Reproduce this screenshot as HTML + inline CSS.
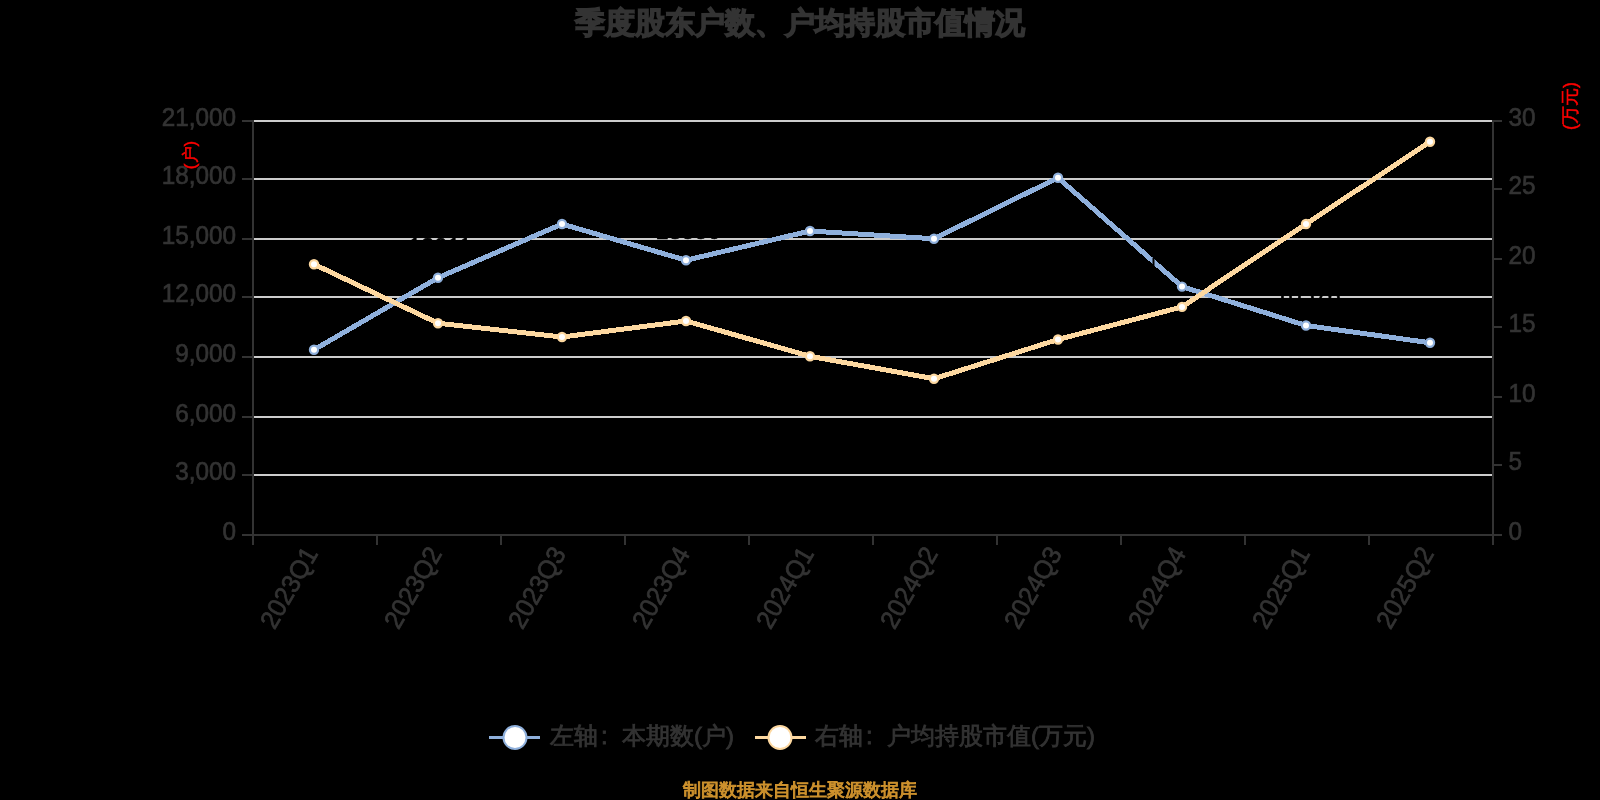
<!DOCTYPE html><html><head><meta charset="utf-8"><style>
html,body{margin:0;padding:0;background:#000;width:1600px;height:800px;overflow:hidden}
svg{display:block;will-change:transform}
text{font-family:"Liberation Sans", sans-serif}
</style></head><body>
<svg width="1600" height="800" viewBox="0 0 1600 800">
<rect width="1600" height="800" fill="#000"/>
<text x="800" y="33" text-anchor="middle" font-size="30" fill="#333333" stroke="#333333" stroke-width="2.4">季度股东户数、户均持股市值情况</text>
<rect x="254" y="474" width="1238" height="2" fill="#cccccc"/>
<rect x="254" y="416" width="1238" height="2" fill="#cccccc"/>
<rect x="254" y="356" width="1238" height="2" fill="#cccccc"/>
<rect x="254" y="296" width="1238" height="2" fill="#cccccc"/>
<rect x="254" y="238" width="1238" height="2" fill="#cccccc"/>
<rect x="254" y="178" width="1238" height="2" fill="#cccccc"/>
<rect x="254" y="120" width="1238" height="2" fill="#cccccc"/>
<text transform="translate(236,540.00) scale(0.935,1)" text-anchor="end" font-size="26" fill="#333333" stroke="#333333" stroke-width="0.7">0</text>
<rect x="242" y="534" width="12" height="2" fill="#333333"/>
<text transform="translate(236,480.00) scale(0.935,1)" text-anchor="end" font-size="26" fill="#333333" stroke="#333333" stroke-width="0.7">3,000</text>
<rect x="242" y="474" width="12" height="2" fill="#333333"/>
<text transform="translate(236,422.00) scale(0.935,1)" text-anchor="end" font-size="26" fill="#333333" stroke="#333333" stroke-width="0.7">6,000</text>
<rect x="242" y="416" width="12" height="2" fill="#333333"/>
<text transform="translate(236,362.00) scale(0.935,1)" text-anchor="end" font-size="26" fill="#333333" stroke="#333333" stroke-width="0.7">9,000</text>
<rect x="242" y="356" width="12" height="2" fill="#333333"/>
<text transform="translate(236,302.00) scale(0.935,1)" text-anchor="end" font-size="26" fill="#333333" stroke="#333333" stroke-width="0.7">12,000</text>
<rect x="242" y="296" width="12" height="2" fill="#333333"/>
<text transform="translate(236,244.00) scale(0.935,1)" text-anchor="end" font-size="26" fill="#333333" stroke="#333333" stroke-width="0.7">15,000</text>
<rect x="242" y="238" width="12" height="2" fill="#333333"/>
<text transform="translate(236,184.00) scale(0.935,1)" text-anchor="end" font-size="26" fill="#333333" stroke="#333333" stroke-width="0.7">18,000</text>
<rect x="242" y="178" width="12" height="2" fill="#333333"/>
<text transform="translate(236,126.00) scale(0.935,1)" text-anchor="end" font-size="26" fill="#333333" stroke="#333333" stroke-width="0.7">21,000</text>
<rect x="242" y="120" width="12" height="2" fill="#333333"/>
<rect x="1492" y="534" width="10" height="2" fill="#333333"/>
<text transform="translate(1508.5,540.00) scale(0.935,1)" text-anchor="start" font-size="26" fill="#333333" stroke="#333333" stroke-width="0.7">0</text>
<rect x="1492" y="464" width="10" height="2" fill="#333333"/>
<text transform="translate(1508.5,470.00) scale(0.935,1)" text-anchor="start" font-size="26" fill="#333333" stroke="#333333" stroke-width="0.7">5</text>
<rect x="1492" y="396" width="10" height="2" fill="#333333"/>
<text transform="translate(1508.5,402.00) scale(0.935,1)" text-anchor="start" font-size="26" fill="#333333" stroke="#333333" stroke-width="0.7">10</text>
<rect x="1492" y="326" width="10" height="2" fill="#333333"/>
<text transform="translate(1508.5,332.00) scale(0.935,1)" text-anchor="start" font-size="26" fill="#333333" stroke="#333333" stroke-width="0.7">15</text>
<rect x="1492" y="258" width="10" height="2" fill="#333333"/>
<text transform="translate(1508.5,264.00) scale(0.935,1)" text-anchor="start" font-size="26" fill="#333333" stroke="#333333" stroke-width="0.7">20</text>
<rect x="1492" y="188" width="10" height="2" fill="#333333"/>
<text transform="translate(1508.5,194.00) scale(0.935,1)" text-anchor="start" font-size="26" fill="#333333" stroke="#333333" stroke-width="0.7">25</text>
<rect x="1492" y="120" width="10" height="2" fill="#333333"/>
<text transform="translate(1508.5,126.00) scale(0.935,1)" text-anchor="start" font-size="26" fill="#333333" stroke="#333333" stroke-width="0.7">30</text>
<rect x="252" y="120" width="2" height="416" fill="#333333"/>
<rect x="1492" y="120" width="2" height="416" fill="#333333"/>
<rect x="252" y="534" width="1242" height="2" fill="#333333"/>
<rect x="252" y="534" width="2" height="11" fill="#333333"/>
<rect x="376" y="534" width="2" height="11" fill="#333333"/>
<rect x="500" y="534" width="2" height="11" fill="#333333"/>
<rect x="624" y="534" width="2" height="11" fill="#333333"/>
<rect x="748" y="534" width="2" height="11" fill="#333333"/>
<rect x="872" y="534" width="2" height="11" fill="#333333"/>
<rect x="996" y="534" width="2" height="11" fill="#333333"/>
<rect x="1120" y="534" width="2" height="11" fill="#333333"/>
<rect x="1244" y="534" width="2" height="11" fill="#333333"/>
<rect x="1368" y="534" width="2" height="11" fill="#333333"/>
<rect x="1492" y="534" width="2" height="11" fill="#333333"/>
<text transform="translate(311,549) rotate(-60) scale(0.96,1)" text-anchor="end" font-size="26" fill="#333333" stroke="#333333" stroke-width="0.7" dy="9">2023Q1</text>
<text transform="translate(435,549) rotate(-60) scale(0.96,1)" text-anchor="end" font-size="26" fill="#333333" stroke="#333333" stroke-width="0.7" dy="9">2023Q2</text>
<text transform="translate(559,549) rotate(-60) scale(0.96,1)" text-anchor="end" font-size="26" fill="#333333" stroke="#333333" stroke-width="0.7" dy="9">2023Q3</text>
<text transform="translate(683,549) rotate(-60) scale(0.96,1)" text-anchor="end" font-size="26" fill="#333333" stroke="#333333" stroke-width="0.7" dy="9">2023Q4</text>
<text transform="translate(807,549) rotate(-60) scale(0.96,1)" text-anchor="end" font-size="26" fill="#333333" stroke="#333333" stroke-width="0.7" dy="9">2024Q1</text>
<text transform="translate(931,549) rotate(-60) scale(0.96,1)" text-anchor="end" font-size="26" fill="#333333" stroke="#333333" stroke-width="0.7" dy="9">2024Q2</text>
<text transform="translate(1055,549) rotate(-60) scale(0.96,1)" text-anchor="end" font-size="26" fill="#333333" stroke="#333333" stroke-width="0.7" dy="9">2024Q3</text>
<text transform="translate(1179,549) rotate(-60) scale(0.96,1)" text-anchor="end" font-size="26" fill="#333333" stroke="#333333" stroke-width="0.7" dy="9">2024Q4</text>
<text transform="translate(1303,549) rotate(-60) scale(0.96,1)" text-anchor="end" font-size="26" fill="#333333" stroke="#333333" stroke-width="0.7" dy="9">2025Q1</text>
<text transform="translate(1427,549) rotate(-60) scale(0.96,1)" text-anchor="end" font-size="26" fill="#333333" stroke="#333333" stroke-width="0.7" dy="9">2025Q2</text>
<text transform="translate(189.5,155) rotate(-90)" text-anchor="middle" font-size="17" fill="#ff0000" stroke="#ff0000" stroke-width="0.5" dy="6">(户)</text>
<text transform="translate(1570,106) rotate(-90)" text-anchor="middle" font-size="18" fill="#ff0000" stroke="#ff0000" stroke-width="0.5" dy="6">(万元)</text>
<polyline points="314,349.75 438,277.75 562,224.00 686,260.25 810,231.00 934,238.75 1058,177.75 1182,286.60 1306,325.50 1430,342.75" fill="none" stroke="#8fb0dc" stroke-width="5" stroke-linejoin="bevel" shape-rendering="crispEdges"/>
<circle cx="314" cy="349.75" r="4.1" fill="#fff" stroke="#8fb0dc" stroke-width="2.2"/>
<circle cx="438" cy="277.75" r="4.1" fill="#fff" stroke="#8fb0dc" stroke-width="2.2"/>
<circle cx="562" cy="224.00" r="4.1" fill="#fff" stroke="#8fb0dc" stroke-width="2.2"/>
<circle cx="686" cy="260.25" r="4.1" fill="#fff" stroke="#8fb0dc" stroke-width="2.2"/>
<circle cx="810" cy="231.00" r="4.1" fill="#fff" stroke="#8fb0dc" stroke-width="2.2"/>
<circle cx="934" cy="238.75" r="4.1" fill="#fff" stroke="#8fb0dc" stroke-width="2.2"/>
<circle cx="1058" cy="177.75" r="4.1" fill="#fff" stroke="#8fb0dc" stroke-width="2.2"/>
<circle cx="1182" cy="286.60" r="4.1" fill="#fff" stroke="#8fb0dc" stroke-width="2.2"/>
<circle cx="1306" cy="325.50" r="4.1" fill="#fff" stroke="#8fb0dc" stroke-width="2.2"/>
<circle cx="1430" cy="342.75" r="4.1" fill="#fff" stroke="#8fb0dc" stroke-width="2.2"/>
<polyline points="314,264.25 438,323.25 562,337.00 686,321.00 810,356.25 934,378.75 1058,339.50 1182,306.90 1306,224.00 1430,141.75" fill="none" stroke="#fdd8a0" stroke-width="5" stroke-linejoin="bevel" shape-rendering="crispEdges"/>
<circle cx="314" cy="264.25" r="4.1" fill="#fff" stroke="#fdd8a0" stroke-width="2.2"/>
<circle cx="438" cy="323.25" r="4.1" fill="#fff" stroke="#fdd8a0" stroke-width="2.2"/>
<circle cx="562" cy="337.00" r="4.1" fill="#fff" stroke="#fdd8a0" stroke-width="2.2"/>
<circle cx="686" cy="321.00" r="4.1" fill="#fff" stroke="#fdd8a0" stroke-width="2.2"/>
<circle cx="810" cy="356.25" r="4.1" fill="#fff" stroke="#fdd8a0" stroke-width="2.2"/>
<circle cx="934" cy="378.75" r="4.1" fill="#fff" stroke="#fdd8a0" stroke-width="2.2"/>
<circle cx="1058" cy="339.50" r="4.1" fill="#fff" stroke="#fdd8a0" stroke-width="2.2"/>
<circle cx="1182" cy="306.90" r="4.1" fill="#fff" stroke="#fdd8a0" stroke-width="2.2"/>
<circle cx="1306" cy="224.00" r="4.1" fill="#fff" stroke="#fdd8a0" stroke-width="2.2"/>
<circle cx="1430" cy="141.75" r="4.1" fill="#fff" stroke="#fdd8a0" stroke-width="2.2"/>
<rect x="1152.5" y="257.5" width="2" height="8.5" fill="#000"/>
<text transform="translate(316,328.25) scale(0.9,1)" text-anchor="middle" font-size="26" fill="#000" stroke="#000" stroke-width="0.7">9349</text>
<text transform="translate(440,256.25) scale(0.9,1)" text-anchor="middle" font-size="26" fill="#000" stroke="#000" stroke-width="0.7">13011</text>
<text transform="translate(564,202.50) scale(0.9,1)" text-anchor="middle" font-size="26" fill="#000" stroke="#000" stroke-width="0.7">15724</text>
<text transform="translate(688,238.75) scale(0.9,1)" text-anchor="middle" font-size="26" fill="#000" stroke="#000" stroke-width="0.7">13886</text>
<text transform="translate(812,209.50) scale(0.9,1)" text-anchor="middle" font-size="26" fill="#000" stroke="#000" stroke-width="0.7">15370</text>
<text transform="translate(936,217.25) scale(0.9,1)" text-anchor="middle" font-size="26" fill="#000" stroke="#000" stroke-width="0.7">14976</text>
<text transform="translate(1060,156.25) scale(0.9,1)" text-anchor="middle" font-size="26" fill="#000" stroke="#000" stroke-width="0.7">18071</text>
<text transform="translate(1308,304.00) scale(0.9,1)" text-anchor="middle" font-size="26" fill="#000" stroke="#000" stroke-width="0.7">10576</text>
<text transform="translate(1432,321.25) scale(0.9,1)" text-anchor="middle" font-size="26" fill="#000" stroke="#000" stroke-width="0.7">9701</text>
<rect x="489" y="736" width="51" height="3" fill="#8fb0dc"/>
<circle cx="515" cy="737.5" r="11.5" fill="#fff" stroke="#8fb0dc" stroke-width="2"/>
<text x="550" y="744" font-size="24" fill="#333333" stroke="#333333" stroke-width="0.8">左轴<tspan x="601">:</tspan><tspan x="622">本期数(户)</tspan></text>
<rect x="755" y="736" width="51" height="3" fill="#fdd8a0"/>
<circle cx="780" cy="737.5" r="11.5" fill="#fff" stroke="#fdd8a0" stroke-width="2"/>
<text x="815" y="744" font-size="24" fill="#333333" stroke="#333333" stroke-width="0.8">右轴<tspan x="866">:</tspan><tspan x="887">户均持股市值(万元)</tspan></text>
<text x="800" y="796" text-anchor="middle" font-size="18" fill="#cd912d" stroke="#cd912d" stroke-width="1">制图数据来自恒生聚源数据库</text>
</svg></body></html>
